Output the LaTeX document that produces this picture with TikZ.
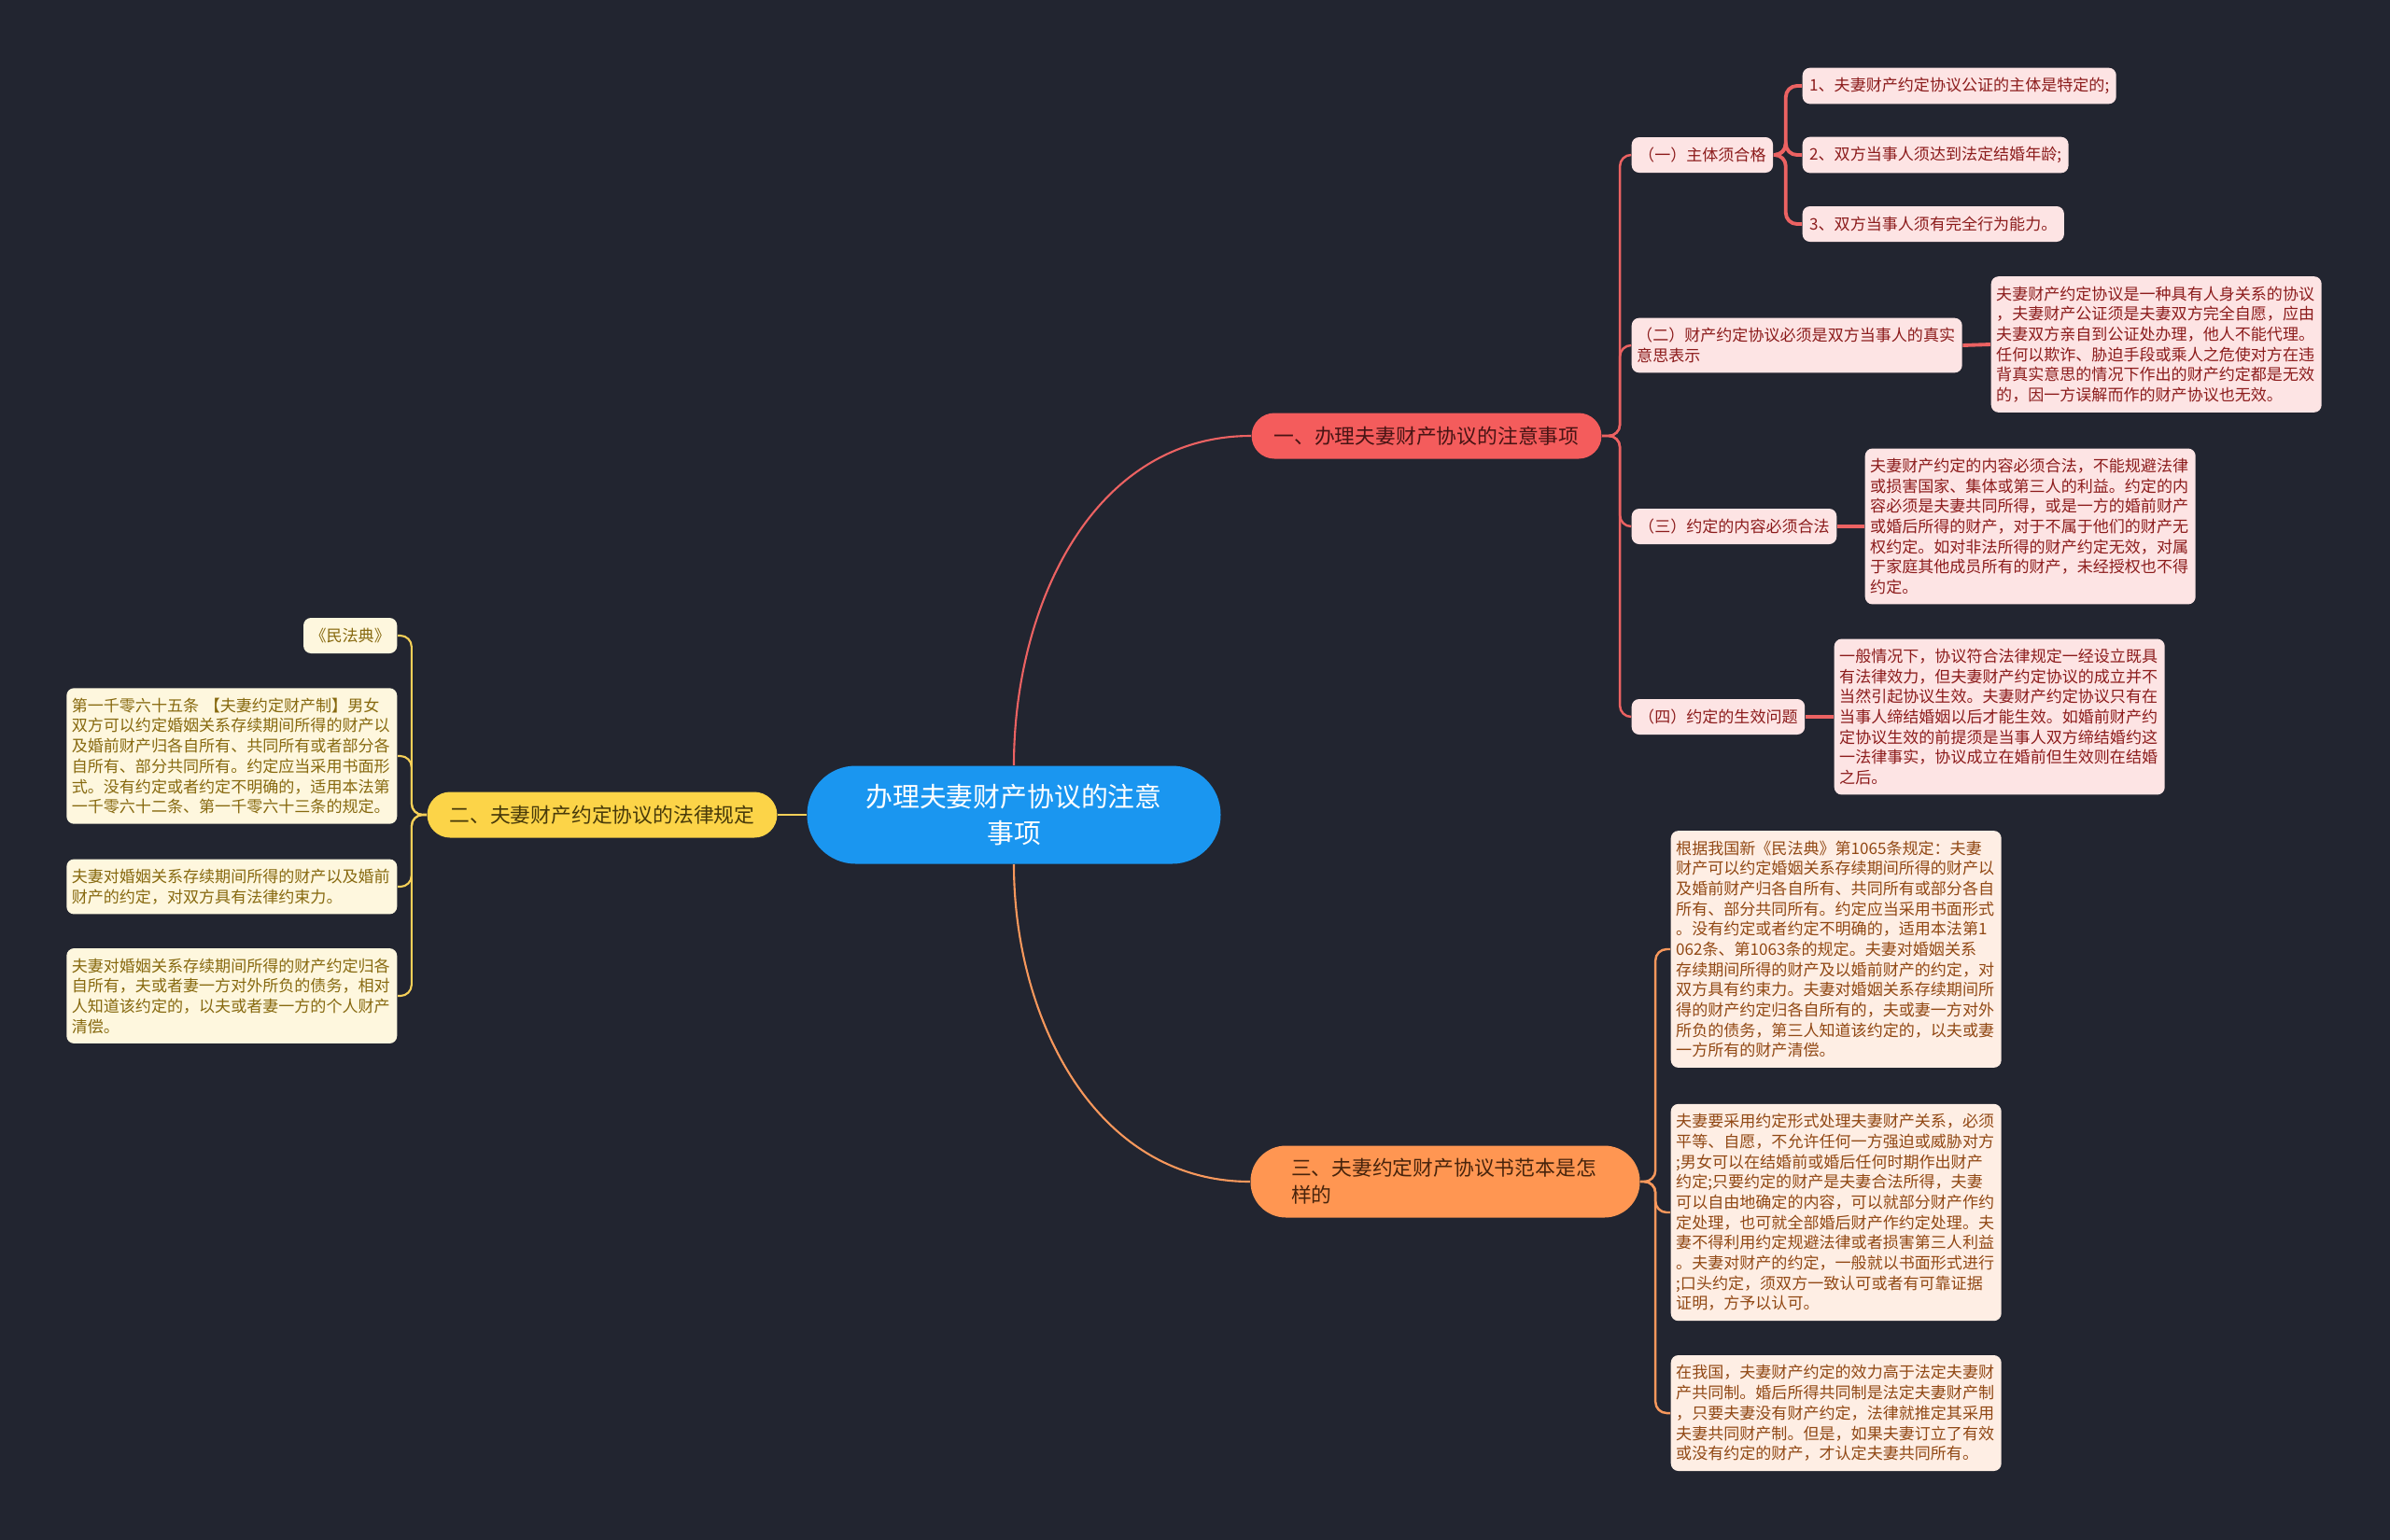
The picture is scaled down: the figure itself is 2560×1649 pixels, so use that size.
\documentclass[tikz,border=0pt]{standalone}
\usepackage{fontspec}
\setmainfont{Noto Sans CJK SC}

\definecolor{bgdark}{RGB}{34,37,48}
\definecolor{rootblue}{RGB}{26,150,240}
\definecolor{redmain}{RGB}{244,92,92}
\definecolor{redline}{RGB}{236,98,98}
\definecolor{redleaf}{RGB}{253,228,228}
\definecolor{redtext}{RGB}{140,28,28}
\definecolor{redhead}{RGB}{72,20,20}
\definecolor{yelmain}{RGB}{252,212,72}
\definecolor{yelline}{RGB}{246,208,88}
\definecolor{yelleaf}{RGB}{254,247,222}
\definecolor{yeltext}{RGB}{135,105,15}
\definecolor{yelhead}{RGB}{72,58,10}
\definecolor{ormain}{RGB}{255,150,82}
\definecolor{orline}{RGB}{248,152,92}
\definecolor{orleaf}{RGB}{254,238,228}
\definecolor{ortext}{RGB}{145,72,20}
\definecolor{orhead}{RGB}{72,36,12}

\begin{document}
\begin{tikzpicture}[x=0.1mm, y=0.1mm,
  rootbox/.style={fill=rootblue, text=white, rounded corners=5.2mm, minimum width=44.3mm,
    minimum height=10.5mm, align=center, font=\fontsize{8.2}{11.1}\selectfont},
  branch/.style={rounded corners=2.45mm, inner xsep=2.4mm, inner ysep=0mm, minimum height=4.9mm,
    font=\fontsize{6.2}{8.3}\selectfont},
  leaf/.style={rounded corners=0.8mm, inner xsep=0.75mm, inner ysep=1.05mm, minimum height=3.8mm,
    align=left, font=\fontsize{4.85}{6.17}\selectfont},
  note/.style={leaf, text width=34.3mm, inner xsep=0.55mm},
  redbox/.style={fill=redleaf, text=redtext},
  yelbox/.style={fill=yelleaf, text=yeltext},
  orbox/.style={fill=orleaf, text=ortext},
  redlink/.style={draw=redline, line width=0.7pt, rounded corners=1.2mm},
  yellink/.style={draw=yelline, line width=0.6pt, rounded corners=1.2mm},
  orlink/.style={draw=orline, line width=0.7pt, rounded corners=1.2mm}
]
% background
\useasboundingbox (0,0) rectangle (2560,-1649);
\fill[bgdark] (-20,20) rectangle (2580,-1670);

% ====================
% Root and the three branches
\node[rootbox] (root) at (1086,-873) {办理夫妻财产协议的注意\\事项};
\node[branch, fill=redmain, text=redhead] (b1) at (1528,-467) {一、办理夫妻财产协议的注意事项};
\node[branch, fill=yelmain, text=yelhead] (b2) at (645,-873) {二、夫妻财产约定协议的法律规定};
\node[branch, fill=ormain, text=orhead, rounded corners=3.8mm, minimum height=7.7mm,
  text width=33mm, inner xsep=4.35mm, align=left] (b3) at (1548,-1266) {三、夫妻约定财产协议书范本是怎\\样的};

% ====================
% Branch one: four parts
\node[leaf, redbox, anchor=west] (s1) at (1747,-166) {（一）主体须合格};
\node[leaf, redbox, anchor=west] (i1) at (1930,-92) {1、夫妻财产约定协议公证的主体是特定的;};
\node[leaf, redbox, anchor=west] (i2) at (1930,-166) {2、双方当事人须达到法定结婚年龄;};
\node[leaf, redbox, anchor=west] (i3) at (1930,-240) {3、双方当事人须有完全行为能力。};
\node[note, redbox, anchor=west] (s2) at (1747,-370) {（二）财产约定协议必须是双方当事人的真实\\意思表示};
\node[note, redbox, anchor=west] (d2) at (2132,-369) {夫妻财产约定协议是一种具有人身关系的协议\\，夫妻财产公证须是夫妻双方完全自愿，应由\\夫妻双方亲自到公证处办理，他人不能代理。\\任何以欺诈、胁迫手段或乘人之危使对方在违\\背真实意思的情况下作出的财产约定都是无效\\的，因一方误解而作的财产协议也无效。};
\node[leaf, redbox, anchor=west] (s3) at (1747,-564) {（三）约定的内容必须合法};
\node[note, redbox, anchor=west] (d3) at (1997,-564) {夫妻财产约定的内容必须合法，不能规避法律\\或损害国家、集体或第三人的利益。约定的内\\容必须是夫妻共同所得，或是一方的婚前财产\\或婚后所得的财产，对于不属于他们的财产无\\权约定。如对非法所得的财产约定无效，对属\\于家庭其他成员所有的财产，未经授权也不得\\约定。};
\node[leaf, redbox, anchor=west] (s4) at (1747,-768) {（四）约定的生效问题};
\node[note, redbox, anchor=west] (d4) at (1964,-768) {一般情况下，协议符合法律规定一经设立既具\\有法律效力，但夫妻财产约定协议的成立并不\\当然引起协议生效。夫妻财产约定协议只有在\\当事人缔结婚姻以后才能生效。如婚前财产约\\定协议生效的前提须是当事人双方缔结婚约这\\一法律事实，协议成立在婚前但生效则在结婚\\之后。};

% ====================
% Branch two: the legal texts
\node[leaf, yelbox, anchor=east] (l1) at (426,-681) {《民法典》};
\node[note, yelbox, anchor=east] (l2) at (426,-810) {第一千零六十五条 【夫妻约定财产制】男女\\双方可以约定婚姻关系存续期间所得的财产以\\及婚前财产归各自所有、共同所有或者部分各\\自所有、部分共同所有。约定应当采用书面形\\式。没有约定或者约定不明确的，适用本法第\\一千零六十二条、第一千零六十三条的规定。};
\node[note, yelbox, anchor=east] (l3) at (426,-950) {夫妻对婚姻关系存续期间所得的财产以及婚前\\财产的约定，对双方具有法律约束力。};
\node[note, yelbox, anchor=east] (l4) at (426,-1067) {夫妻对婚姻关系存续期间所得的财产约定归各\\自所有，夫或者妻一方对外所负的债务，相对\\人知道该约定的，以夫或者妻一方的个人财产\\清偿。};

% ====================
% Branch three: the model agreement
\node[note, orbox, anchor=west] (o1) at (1789,-1017) {根据我国新《民法典》第1065条规定：夫妻\\财产可以约定婚姻关系存续期间所得的财产以\\及婚前财产归各自所有、共同所有或部分各自\\所有、部分共同所有。约定应当采用书面形式\\。没有约定或者约定不明确的，适用本法第1\\062条、第1063条的规定。夫妻对婚姻关系\\存续期间所得的财产及以婚前财产的约定，对\\双方具有约束力。夫妻对婚姻关系存续期间所\\得的财产约定归各自所有的，夫或妻一方对外\\所负的债务，第三人知道该约定的，以夫或妻\\一方所有的财产清偿。};
\node[note, orbox, anchor=west] (o2) at (1789,-1299) {夫妻要采用约定形式处理夫妻财产关系，必须\\平等、自愿，不允许任何一方强迫或威胁对方\\;男女可以在结婚前或婚后任何时期作出财产\\约定;只要约定的财产是夫妻合法所得，夫妻\\可以自由地确定的内容，可以就部分财产作约\\定处理，也可就全部婚后财产作约定处理。夫\\妻不得利用约定规避法律或者损害第三人利益\\。夫妻对财产的约定，一般就以书面形式进行\\;口头约定，须双方一致认可或者有可靠证据\\证明，方予以认可。};
\node[note, orbox, anchor=west] (o3) at (1789,-1514) {在我国，夫妻财产约定的效力高于法定夫妻财\\产共同制。婚后所得共同制是法定夫妻财产制\\，只要夫妻没有财产约定，法律就推定其采用\\夫妻共同财产制。但是，如果夫妻订立了有效\\或没有约定的财产，才认定夫妻共同所有。};

% ====================
% Connectors
\draw[redlink, line width=0.6pt] (root.north) to[out=90, in=180] (b1.west);
\draw[orlink, line width=0.6pt] (root.south) to[out=-90, in=180] (b3.west);
\draw[yellink] (root.west) -- (b2.east);
\foreach \n in {s1,s2,s3,s4}
  \draw[redlink] (b1.east) -- ++(19,0) |- (\n.west);
\foreach \n in {i1,i2,i3}
  \draw[redlink, line width=1.1pt] (s1.east) -- ++(13,0) |- (\n.west);
\draw[redlink, line width=1.1pt] (s2.east) -- (d2.west);
\draw[redlink, line width=1.1pt] (s3.east) -- (d3.west);
\draw[redlink, line width=1.1pt] (s4.east) -- (d4.west);
\foreach \n in {l1,l2,l3,l4}
  \draw[yellink] (b2.west) -- ++(-16,0) |- (\n.east);
\foreach \n in {o1,o2,o3}
  \draw[orlink] (b3.east) -- ++(16,0) |- (\n.west);

\end{tikzpicture}
\end{document}
